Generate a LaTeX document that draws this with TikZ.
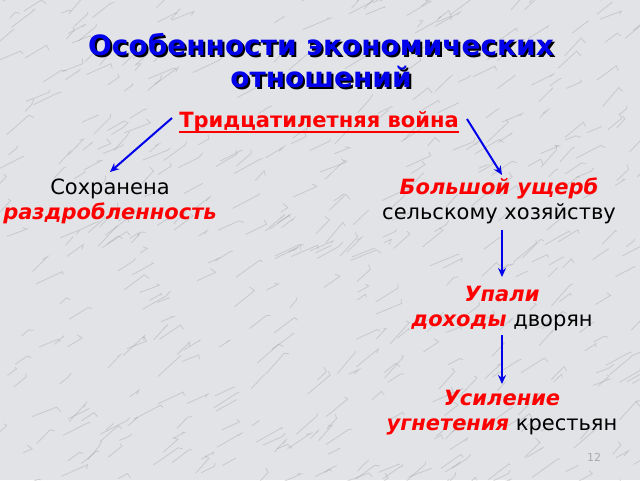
\documentclass[tikz,border=0pt]{standalone}
\usepackage{fontspec}
\setmainfont{DejaVu Sans}
\usetikzlibrary{arrows.meta,calc}
\definecolor{tblue}{RGB}{0,0,235}
\definecolor{tred}{RGB}{255,0,0}
\definecolor{marble}{RGB}{226,227,230}
\definecolor{vein}{RGB}{115,117,124}
\definecolor{pnum}{RGB}{170,170,170}
\tikzset{
  titletext/.style={font=\fontsize{28}{32}\bfseries\selectfont, inner sep=0pt, text=tblue},
  body/.style={font=\fontsize{21}{25}\selectfont, align=center, inner sep=0pt},
  arr/.style={draw=tblue, line width=2pt, -{Stealth[length=9pt,width=8pt]}},
  veinline/.style={draw=vein, line width=0.8pt, opacity=0.24, line cap=round},
}
\newcommand{\rb}[1]{\textcolor{tred}{\bfseries\itshape #1}}
\newcommand{\shadowed}[1]{\makebox[0pt][l]{\hspace{2pt}\raisebox{-2pt}{\textcolor{black}{#1}}}#1}
\begin{document}
\begin{tikzpicture}[x=1pt,y=-1pt]
\fill[marble] (0,0) rectangle (640,480);
\useasboundingbox (0,0) rectangle (640,480);
% marble veins
\pgfmathsetseed{17}
\foreach \i in {1,...,480}{
  \pgfmathsetmacro{\xa}{rnd*660-10}
  \pgfmathsetmacro{\ya}{rnd*500-10}
  \pgfmathsetmacro{\len}{8+rnd*22}
  \pgfmathsetmacro{\ang}{20+rnd*30}
  \pgfmathsetmacro{\xb}{\xa+\len*cos(\ang)}
  \pgfmathsetmacro{\yb}{\ya-\len*sin(\ang)}
  \pgfmathsetmacro{\xc}{\xb+rnd*10-5}
  \pgfmathsetmacro{\yc}{\yb+rnd*10-5}
  \draw[veinline] (\xa,\ya) -- (\xb,\yb) -- (\xc,\yc);
}
% title with shadow
\node[titletext] (t1) at (321,46) {\shadowed{Особенности экономических}};
\node[titletext] (t2) at (321,78) {\shadowed{отношений}};
% war
\node[font=\fontsize{21}{25}\bfseries\selectfont, text=tred, inner sep=0pt] (war) at (319,122) {Тридцатилетняя война};
\draw[tred, line width=2pt] ($(war.base west)+(0,4)$) -- ($(war.base east)+(0,4)$);
% left
\node[body] (left) at (110,201) {Сохранена\\\rb{раздробленность}};
% right chain
\node[body] (dmg) at (499,201) {\rb{Большой ущерб}\\сельскому хозяйству};
\node[body] (inc) at (502,309) {\rb{Упали}\\\rb{доходы} дворян};
\node[body] (opp) at (502,413) {\rb{Усиление}\\\rb{угнетения} крестьян};
% page number
\node[font=\fontsize{11}{13}\selectfont, text=pnum, inner sep=0pt] (pg) at (594,457) {12};
% arrows
\coordinate (wl) at (172,118);
\coordinate (wr) at (467,119);
\coordinate (lt) at (110,172);
\coordinate (rt) at (502,175);
\coordinate (b1) at (502,230);
\coordinate (b2) at (502,277);
\coordinate (c1) at (502,335);
\coordinate (c2) at (502,384);
\draw[arr] (wl) -- (lt);
\draw[arr] (wr) -- (rt);
\draw[arr] (b1) -- (b2);
\draw[arr] (c1) -- (c2);
\end{tikzpicture}
\end{document}
